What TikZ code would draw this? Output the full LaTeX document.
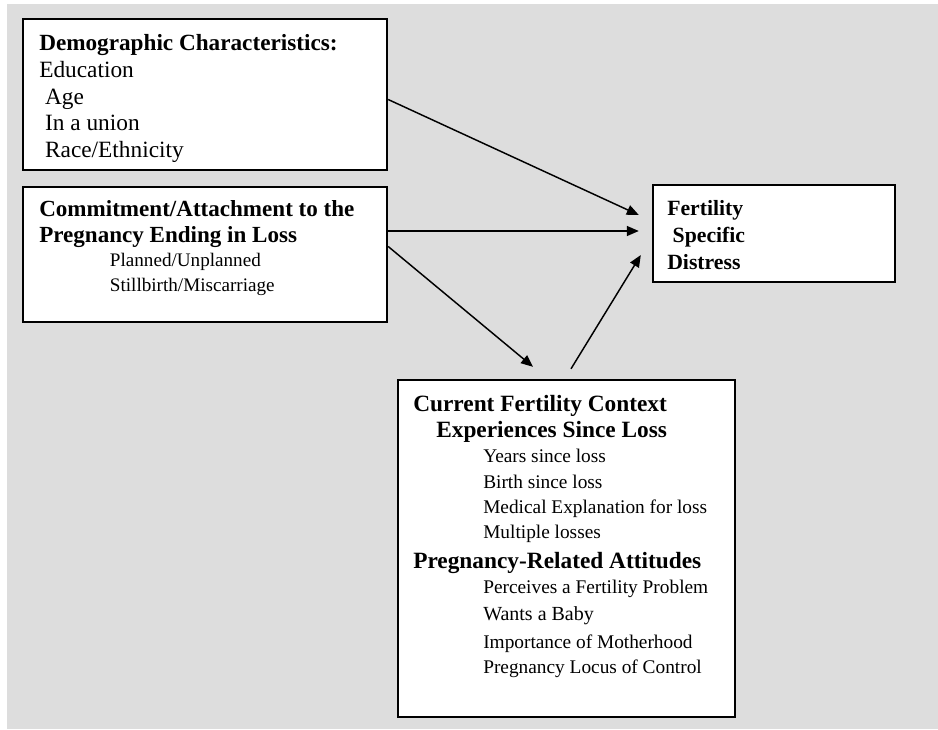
\documentclass[tikz,border=0pt]{standalone}
\usepackage{fontspec}
\setmainfont{Liberation Serif}
\usepackage{tikz}
\usetikzlibrary{arrows.meta}
\usetikzlibrary{calc}
\definecolor{bggray}{RGB}{221,221,221}
\tikzset{
  box/.style={draw, line width=1.8pt, fill=white, inner sep=0pt},
  txt/.style={anchor=north west, align=left, inner sep=0pt},
  arr/.style={line width=1.1pt, -{Triangle[length=9pt,width=7.5pt]}}
}
\begin{document}
\begin{tikzpicture}[x=0.75pt,y=0.75pt,yscale=-1,xscale=1]
\useasboundingbox (0,0) rectangle (938,729);
\fill[bggray] (7,4) rectangle (938,729);
% boxes
\node[box, minimum width=273pt, minimum height=113.25pt] (demo) at (205,94.5) {};
\node[box, minimum width=273pt, minimum height=101.25pt] (commit) at (205,254.5) {};
\node[box, minimum width=181.5pt, minimum height=72.75pt] (fert) at (774,233.5) {};
\node[box, minimum width=252.75pt, minimum height=252.75pt] (curr) at (566.5,548.5) {};
% texts
\node[txt, font=\fontsize{17.5}{20}\selectfont] (demotxt) at (39,34.5) {{\bfseries\fontsize{17.4}{20}\selectfont Demographic Characteristics:}\\Education\\~Age\\~In a union\\~Race/Ethnicity};
\node[txt, font=\fontsize{17.3}{20}\selectfont] (committxt) at (39,200) {\textbf{Commitment/Attachment to the}\\\textbf{Pregnancy Ending in Loss}\\[-2pt]
  \hspace*{53pt}{\fontsize{14.35}{20}\selectfont Planned/Unplanned}\\[-1.3pt]
  \hspace*{53pt}{\fontsize{14.35}{20}\selectfont Stillbirth/Miscarriage}};
\node[txt, font=\fontsize{16.3}{20.25}\selectfont\bfseries] (ferttxt) at (667,200) {Fertility\\~Specific\\Distress};
\node[txt, font=\fontsize{17.5}{19}\selectfont] (currtxt) at (413,395) {\textbf{Current Fertility Context}\\[0.5pt]
  \hspace*{17.25pt}\textbf{Experiences Since Loss}\\
  \hspace*{52.5pt}{\fontsize{14.5}{19}\selectfont Years since loss}\\
  \hspace*{52.5pt}{\fontsize{14.5}{19}\selectfont Birth since loss}\\
  \hspace*{52.5pt}{\fontsize{14.5}{19}\selectfont Medical Explanation for loss}\\
  \hspace*{52.5pt}{\fontsize{14.5}{19}\selectfont Multiple losses}\\[3pt]
  \textbf{Pregnancy-Related Attitudes}\\
  \hspace*{52.5pt}{\fontsize{14.5}{19}\selectfont Perceives a Fertility Problem}\\[1.5pt]
  \hspace*{52.5pt}{\fontsize{15}{19}\selectfont Wants a Baby}\\[1.5pt]
  \hspace*{52.5pt}{\fontsize{14.5}{19}\selectfont Importance of Motherhood}\\
  \hspace*{52.5pt}{\fontsize{14.5}{19}\selectfont Pregnancy Locus of Control}};
% arrows
\draw[arr] ($(demo.east)+(0,5)$) -- ($(fert.west)+(-13,-18.5)$);
\draw[arr] ($(commit.east)+(0,-23.5)$) -- ($(fert.west)+(-13,-2.5)$);
\draw[arr] ($(commit.east)+(0,-8)$) -- ($(curr.north)+(-33.5,-12)$);
\draw[arr] ($(curr.north)+(4.5,-10)$) -- ($(fert.west)+(-11,21.5)$);
\end{tikzpicture}
\end{document}
